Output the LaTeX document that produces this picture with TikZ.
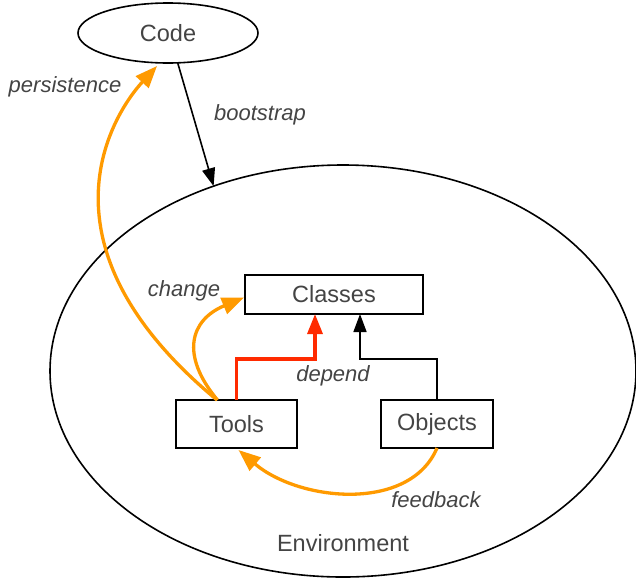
\documentclass[tikz,border=0pt]{standalone}
\usepackage{fontspec}
\setmainfont{Liberation Sans}
\usetikzlibrary{arrows.meta,shapes.geometric,calc}
\definecolor{txt}{HTML}{444444}
\definecolor{orng}{HTML}{FF9A00}
\definecolor{redd}{HTML}{FF2A00}
\tikzset{
  box/.style={draw=black,line width=1.6pt,rectangle,inner sep=0pt,outer sep=0pt,text=txt,font=\fontsize{23.5}{26}\selectfont},
  oval/.style={draw=black,line width=1.6pt,ellipse,inner sep=0pt,outer sep=0pt,text=txt,font=\fontsize{23.5}{26}\selectfont},
  lbl/.style={text=txt,font=\fontsize{22}{24}\selectfont\itshape,inner sep=0pt},
  flow/.style={-{Triangle[length=22pt,width=17pt]},draw=orng,line width=3.3pt},
  blk/.style={-{Triangle[length=18pt,width=13pt]},draw=black,line width=1.6pt},
  dep/.style={-{Triangle[length=20pt,width=15pt]},draw=redd,line width=3.3pt},
}
\begin{document}
\begin{tikzpicture}[x=1pt,y=-1pt]
\useasboundingbox (0,0) rectangle (636,579);
\node[oval,minimum width=586pt,minimum height=412pt] (env) at (343,371) {};
\node[oval,minimum width=180pt,minimum height=60pt] (code) at (168,33) {Code};
\node[box,minimum width=178pt,minimum height=39pt] (classes) at (334,294.5) {Classes};
\node[box,minimum width=121pt,minimum height=48pt] (tools) at (236.5,424) {Tools};
\node[box,minimum width=112pt,minimum height=48pt] (objects) at (437,424) {Objects};
\node[lbl] (lpers) at (65,87) {persistence};
\node[lbl] (lboot) at (260,115) {bootstrap};
\node[lbl] (lchg) at (184,291) {change};
\node[lbl] (ldep) at (333,376) {depend};
\node[lbl] (lfb) at (436,500) {feedback};
\node[text=txt,font=\fontsize{23.5}{26}\selectfont,inner sep=0pt] (lenv) at (343,543) {Environment};
% bootstrap
\draw[blk] (code.-72) -- (env.125.1);
% persistence
\draw[flow] ($(tools.north)+(-19.5,0)$) .. controls (30,245) and (112,115) .. ($(code.south)+(-11,3)$);
% change
\draw[flow] ($(tools.north)+(-19,0)$) .. controls (180,355) and (190,320) .. ($(classes.west)+(-1,3)$);
% depend
\draw[dep] (tools.north) |- ($(classes.south)+(-19,45)$) -- ($(classes.south)+(-19,0)$);
% objects -> classes
\draw[blk] (objects.north) |- ($(classes.south)+(26,45)$) -- ($(classes.south)+(26,0)$);
% feedback
\draw[flow] (objects.south) .. controls (410,512) and (300,502) .. ($(tools.south)+(2,2)$);
\end{tikzpicture}
\end{document}
